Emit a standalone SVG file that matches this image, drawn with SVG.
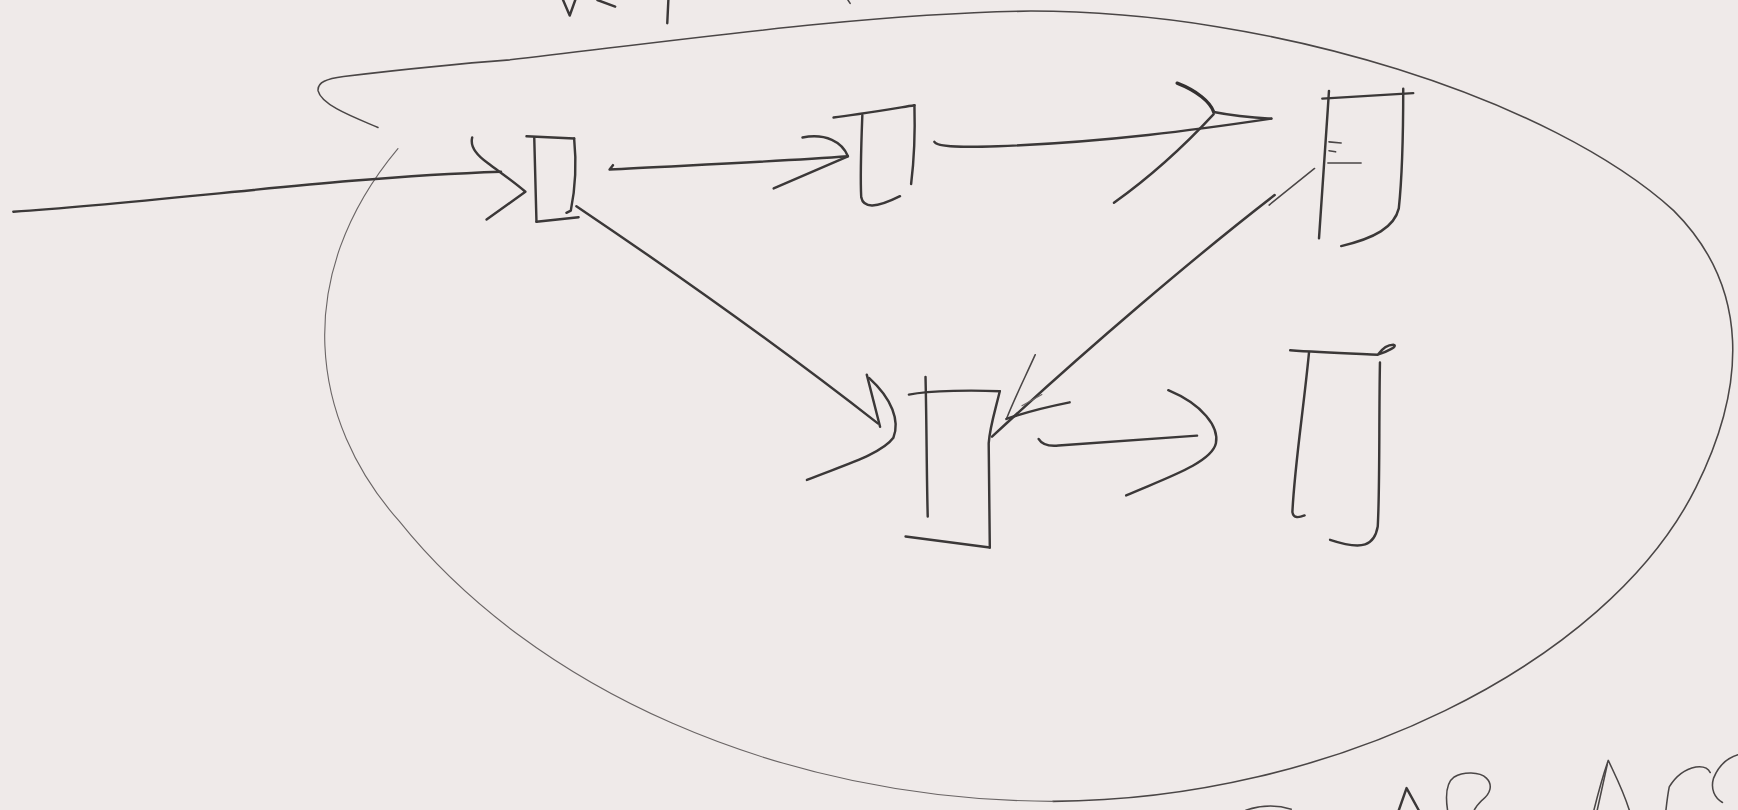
<svg xmlns="http://www.w3.org/2000/svg" width="1738" height="810" viewBox="0 0 1738 810">
<style>
.ink{fill:none;stroke:#3b3838;stroke-width:2.2;stroke-linecap:round;stroke-linejoin:round}
.thin{fill:none;stroke:#4a4646;stroke-width:1.4;stroke-linecap:round;stroke-linejoin:round}
.hair{fill:none;stroke:#6a6565;stroke-width:1;stroke-linecap:round}
.bold{fill:none;stroke:#333030;stroke-width:3;stroke-linecap:round;stroke-linejoin:round}
</style>
<rect width="1738" height="810" fill="#efeae9"/>
<g transform="scale(1.1084)">
<g id="boundary">
<path class="thin" d="M341,115 C320,106 290,95 287,82 C286,74 295,71 310,69 C360,63 420,57 460,54 C600,38 780,12 930,10 C1150,10 1400,90 1510,190 C1580,260 1575,350 1530,440 C1450,600 1200,722 950,723"/>
<path class="hair" d="M950,723 C700,722 480,620 360,470 C280,380 262,250 359,134"/>
</g>
<g id="node-a">
<path class="ink" d="M475,123 L518,125"/>
<path class="ink" d="M518,125 C520,145 520,165 515,190 L511,192"/>
<path class="ink" d="M482,124 L484,200"/>
<path class="ink" d="M484,200 L522,196"/>
</g>
<g id="node-b">
<path class="ink" d="M752,106 C770,104 800,99 825,95"/>
<path class="ink" d="M825,95 C826,130 824,150 822,166"/>
<path class="ink" d="M778,104 C777,130 776,160 777,178 C779,188 790,188 812,177"/>
</g>
<g id="node-c">
<path class="ink" d="M1193,89 L1275,84"/>
<path class="ink" d="M1199,82 C1196,130 1192,180 1190,215"/>
<path class="ink" d="M1266,80 C1266,130 1265,160 1262,188 C1258,205 1240,215 1210,222"/>
<path class="thin" d="M1199,128 L1210,129 M1199,136 L1205,137 M1198,147 L1228,147"/>
</g>
<g id="node-d">
<path class="ink" d="M820,356 C840,352 880,352 902,353"/>
<path class="ink" d="M835,340 C836,380 836,430 837,466"/>
<path class="ink" d="M902,353 C898,370 893,385 892,400 L893,494"/>
<path class="ink" d="M817,484 L893,494"/>
</g>
<g id="node-e">
<path class="ink" d="M1164,316 C1190,318 1220,319 1243,320 C1252,317 1262,312 1257,311 C1251,311 1246,316 1243,320"/>
<path class="ink" d="M1181,318 C1176,370 1168,420 1166,462 C1167,468 1172,467 1177,465"/>
<path class="ink" d="M1245,327 C1244,380 1245,440 1243,475 C1240,492 1230,497 1200,487"/>
</g>
<g id="connectors">
<path class="ink" d="M12,191 C150,182 300,160 452,155"/>
<path class="ink" d="M426,124 C424,132 430,140 440,147 C452,156 465,165 474,173 L439,198"/>
<path class="ink" d="M553,149 L550,153 C600,150 700,146 765,141"/>
<path class="ink" d="M724,124 C745,120 760,128 765,141 L698,170"/>
<path class="ink" d="M843,128 C846,133 870,133 900,132 C1000,128 1080,117 1147,107"/>
<path class="bold" d="M1062,75 C1080,82 1092,92 1095,101"/>
<path class="ink" d="M1095,101 C1110,104 1130,106 1147,107"/>
<path class="ink" d="M1095,103 C1070,130 1040,158 1005,183"/>
<path class="ink" d="M520,186 C600,240 700,310 792,382"/>
<path class="ink" d="M782,338 L794,385"/>
<path class="ink" d="M784,341 C805,360 812,380 806,395 C795,410 760,420 728,433"/>
<path class="thin" d="M1186,152 L1145,185"/>
<path class="ink" d="M1150,176 C1080,230 980,315 895,394"/>
<path class="thin" d="M934,320 C925,340 915,360 908,378"/>
<path class="ink" d="M965,363 C945,367 925,372 908,378"/>
<path class="hair" d="M922,366 L940,356"/>
<path class="ink" d="M937,396 C940,401 945,403 955,402 C1000,399 1040,396 1080,393"/>
<path class="ink" d="M1054,352 C1085,365 1100,385 1097,400 C1093,418 1050,432 1016,447"/>
</g>
<g id="scribbles">
<path class="ink" d="M508,0 L514,14 L519,0"/>
<path class="ink" d="M539,0 L555,6"/>
<path class="ink" d="M603,0 L602,21"/>
<path class="thin" d="M765,0 L767,3"/>
<path class="thin" d="M1124,731 Q1145,724 1165,730"/>
<path class="ink" d="M1262,731 L1269,711 L1280,731"/>
<path class="thin" d="M1306,731 C1304,718 1305,706 1312,701 C1320,696 1335,696 1341,702 C1347,708 1345,716 1337,722 C1333,726 1331,729 1330,731"/>
<path class="thin" d="M1438,731 C1442,715 1446,700 1451,686 C1456,697 1464,712 1470,731"/>
<path class="thin" d="M1441,731 L1450,690"/>
<path class="thin" d="M1503,731 C1504,722 1505,715 1506,710 C1512,700 1520,694 1530,692 C1537,691 1541,693 1543,697"/>
<path class="thin" d="M1568,681 C1558,684 1550,692 1546,702 C1543,712 1547,720 1554,724"/>
</g>
</g>
</svg>
